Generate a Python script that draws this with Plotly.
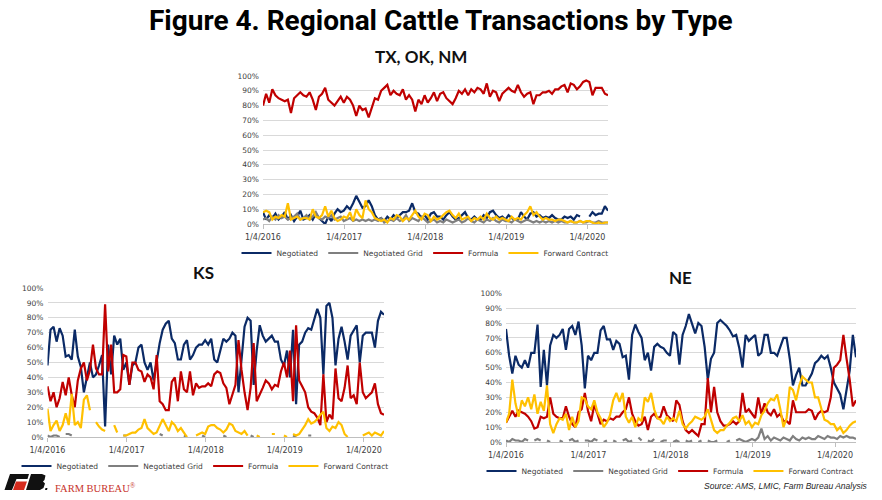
import pandas as pd
import plotly.graph_objects as go

W, H = 882, 500
START = "2016-01-04"
END = "2020-04-06"
STEP = "14D"

SERIES_NAMES = ["Negotiated", "Negotiated Grid", "Formula", "Forward Contract"]
SERIES_COLORS = ["#0B2A66", "#7F7F7F", "#C00000", "#FFC000"]
TICK_DATES = ["2016-01-04", "2017-01-04", "2018-01-04", "2019-01-04", "2020-01-04"]
TICK_TEXT = ["1/4/2016", "1/4/2017", "1/4/2018", "1/4/2019", "1/4/2020"]
N = None

# ---------------- TX, OK, NM (percent of transactions) ----------------
tx_negotiated = [
    8, 3, 6, 4, 7, 3, 5, 8, 3, 6,
    2, 5, 9, 3, 4, 6, 3, 7, 4, 2,
    0, 5, 2, 7, 10, 8, 9, 12, 10, 14,
    19, 15, 11, 12, 16, 12, 6, 3, 4, 2,
    5, 3, 6, 4, 6, 8, 8, 9, 14, 8,
    7, 4, 6, 3, 7, 8, 5,
    5, 3, 6, 8, 5, 3, 4, 6, 8, 4,
    3, 5, 3, 3, 6, 4, 8, 9, 6, 4,
    5, 3, 6, 4, 3, 3, 8, 5, 3, 7,
    8, 5, 6, 4, 5, 4, 6, 4, 3, 3,
    5, 4, 5, 3, 6, 5, N, N, 5, 8,
    6, 7, 7, 12, 9]
tx_grid = [
    3, 4, 2, 5, 3, 6, 4, 5, 3, 4,
    5, 7, 3, 4, 6, 3, 5, 8, 4, 3,
    5, 4, 6, 3, 4, 5, 2, 3, 4, 2,
    3, 2, 3, 2, 3, 2, 3, 2, 4, 1,
    2, 3, 2, 4, 2, 3, 6, 2, 4, 3,
    2, 5, 3, 1, 2, 3, 1,
    2, 1, 3, 2, 1, 2, 3, 1, 2, 4,
    2, 1, 3, 2, 1, 3, 2, 4, 2, 1,
    3, 2, 2, 1, 3, 2, 1, 2, 3, 2,
    1, 2, 1, 2, 1, 2, 1, 2, 1, 2,
    1, 1, 2, 1, 1, 2, 1, 1, 2, 1,
    1, 2, 1, 1, 1]
tx_formula = [
    80, 88, 82, 91, 87, 85, 84, 83, 84, 75,
    85, 87, 89, 87, 86, 89, 84, 77, 86, 88,
    92, 84, 82, 80, 83, 86, 82, 86, 84, 80,
    73, 80, 77, 78, 72, 78, 85, 84, 90, 92,
    94, 87, 90, 88, 87, 91, 84, 87, 84, 76,
    84, 81, 87, 82, 85, 89, 83,
    88, 89, 85, 83, 81, 85, 90, 88, 91, 87,
    91, 89, 92, 91, 88, 95, 86, 90, 89, 83,
    88, 90, 92, 90, 89, 94, 89, 86, 88, 89,
    81, 87, 87, 89, 89, 90, 88, 91, 91, 93,
    94, 89, 95, 94, 91, 93, 96, 97, 96, 87,
    92, 92, 92, 88, 87]
tx_forward = [
    8, 9, 8, 3, 5, 4, 6, 5, 14, 3,
    4, 5, 3, 4, 4, 3, 10, 5, 4, 6,
    12, 5, 9, 4, 2, 3, 5, 4, 8, 2,
    10, 6, 4, 16, 10, 8, 4, 3, 2, 3,
    1, 4, 3, 6, 5, 2, 4, 3, 6, 9,
    5, 3, 7, 6, 2, 5, 3,
    4, 6, 8, 9, 6, 4, 7, 3, 4, 5,
    2, 4, 3, 5, 3, 7, 4, 3, 5, 3,
    4, 3, 2, 5, 3, 4, 3, 6, 8, 12,
    6, 8, 5, 3, 4, 3, 3, 2, 3, 3,
    2, 1, 2, 1, 1, 2, 1, 2, 2, 1,
    0, 1, 0, 1, 1]

# ---------------- KS ----------------
ks_negotiated = [
    48, 72, 74, 64, 73, 68, 54, 55, 52, 72,
    54, 47, 30, 40, 50, 40, 42, 48, 55, 7,
    62, 42, 68, 62, 66, 45, 50, 35, 48, 50,
    60, 62, 50, 45, 50, 38, 52, 63, 72, 76,
    78, 66, 63, 52, 52, 62, 65, 52, 55, 60,
    62, 62, 65, 62, 66, 52,
    50, 58, 66, 64, 66, 70, 68, 30, 52, 74,
    80, 78, 35, 58, 75, 68, 64, 66, 68, 64,
    64, 52, 48, 58, 40, 72, 22, 62, 64, 70,
    73, 72, 80, 86, 80, 42, 88, 90, 80, 48,
    66, 74, 64, 52, 68, 72, 75, 50, 68, 70,
    70, 70, 60, 78, 84, 82]
ks_grid = [
    1, 0, 1, 1, 0, N, 2, 2, 1, N,
    N, N, N, N, N, N, N, N, N, N,
    N, N, N, N, N, 1, 1, N, N, N,
    N, N, N, N, N, N, N, 2, 1, N,
    N, N, N, N, N, 1, 0, N, N, N,
    N, 1, 0, N, N, N,
    N, N, 1, 0, N, N, N, N, N, N,
    N, 1, 0, N, N, N, N, N, N, N,
    N, N, N, N, N, 1, 0, N, N, N,
    1, 1, N, N, N, N, N, N, N, N,
    N, N, N, N, N, N, N, N, N, N,
    N, N, N, N, N, N]
ks_formula = [
    34, 24, 30, 20, 26, 37, 28, 40, 28, 20,
    38, 46, 50, 38, 45, 62, 46, 42, 42, 89,
    44, 62, 30, 30, 32, 55, 54, 35, 50, 50,
    45, 44, 37, 42, 40, 32, 55, 24, 22, 18,
    18, 37, 40, 24, 44, 32, 30, 44, 28, 36,
    33, 34, 34, 36, 34, 42,
    44, 43, 36, 33, 22, 29, 35, 65, 45, 30,
    18, 33, 63, 24, 28, 33, 38, 36, 32, 35,
    34, 44, 50, 40, 58, 24, 75, 38, 34, 30,
    20, 17, 16, 13, 8, 42, 10, 15, 12, 46,
    26, 24, 33, 48, 26, 28, 22, 50, 30, 26,
    28, 30, 36, 22, 16, 15]
ks_forward = [
    19, 4, 8, 11, 4, 8, 16, 8, 29, 8,
    10, 6, 25, 28, 18, N, 10, 7, 5, 4,
    N, N, 8, 3, N, 1, 1, 2, 3, 3,
    5, 6, 12, 6, 4, 2, 3, 8, 12, 8,
    4, 10, 8, 4, 6, 3, 0, N, N, 1,
    2, 3, 2, 7, 8, 8,
    6, 5, 3, 5, 9, 8, 4, 3, 2, 4,
    1, N, N, 1, 0, N, N, N, 2, 2,
    N, N, 1, 0, N, 2, 1, 2, 5, 8,
    12, 9, 10, 12, 15, 17, 6, 4, 7, 6,
    10, 8, 2, 0, N, N, N, N, 1, 2,
    3, 1, 3, 2, 1, 4]

# ---------------- NE ----------------
ne_negotiated = [
    76, 58, 46, 58, 52, 50, 55, 50, 60, 60,
    79, 37, 62, 38, 65, 72, 70, 72, 76, 62,
    76, 78, 72, 81, 65, 36, 58, 55, 60, 60,
    75, 78, 69, 69, 62, 68, 66, 57, 58, 42,
    72, 79, 74, 70, 55, 60, 48, 64, 66, 64,
    63, 60, 58, 74, 72, 52,
    72, 78, 86, 79, 73, 80, 78, 64, 42, 56,
    60, 80, 82, 80, 78, 75, 71, 72, 63, 50,
    72, 68, 70, 72, 58, 60, 72, 72, 60, 60,
    58, 64, 70, 70, 56, 38, 45, 50, 38, 38,
    42, 46, 53, 55, 58, 56, 58, 50, 40, 36,
    32, 22, 35, 48, 72, 57]
ne_grid = [
    1, 0, 2, 1, 1, 0, 2, 1, N, 1,
    2, 1, N, 1, 0, N, N, 1, 0, N,
    1, 2, 0, 1, N, 1, 1, 0, 2, 1,
    N, 0, 1, N, 1, 0, N, 1, 2, 0,
    1, N, 3, 1, N, 1, 0, 2, N, 0,
    1, 1, N, 0, 1, 0,
    N, 1, 0, 1, N, 0, 1, N, 1, 0,
    0, 1, N, N, 0, 1, N, 1, 2, 1,
    0, 1, 2, 1, 3, 9, 2, 4, 1, 3,
    2, 1, 3, 2, 1, 4, 2, 1, 3, 2,
    3, 2, 2, 4, 3, 2, 4, 3, 3, 2,
    4, 3, 4, 3, 3, 2]
ne_formula = [
    13, 17, 21, 17, 21, 20, 19, 17, 14, 9,
    10, 17, 16, 17, 30, 19, 17, 16, 16, 24,
    17, 12, 10, 20, 22, 33, 21, 14, 25, 19,
    12, 15, 14, 16, 15, 17, 17, 20, 22, 30,
    19, 14, 11, 12, 17, 8, 17, 19, 16, 17,
    24, 18, 16, 14, 28, 25,
    14, 8, 6, 8, 6, 4, 12, 12, 43, 20,
    37, 20, 14, 11, 11, 12, 14, 12, 14, 33,
    20, 22, 19, 16, 30, 19, 26, 20, 18, 22,
    17, 19, 14, 14, 12, 28, 20, 20, 20, 20,
    22, 21, 15, 19, 21, 20, 21, 30, 50, 52,
    55, 72, 56, 42, 24, 28]
ne_forward = [
    13, 19, 42, 26, 17, 28, 24, 30, 22, 32,
    19, 27, 21, 38, 12, 6, 12, 16, 15, 19,
    8, 17, 10, 14, 30, 29, 24, 22, 28, 20,
    16, 10, 13, 18, 28, 33, 27, 33, 17, 13,
    17, 10, 16, 14, 30, 27, 33, 22, 16, 15,
    12, 17, 14, 16, 14, 21,
    12, 9, 12, 14, 17, 16, 15, 17, 22, 15,
    8, 6, 8, 8, 11, 13, 16, 17, 14, 18,
    12, 14, 10, 13, 12, 18, 21, 26, 29, 28,
    32, 22, 10, 16, 37, 35, 28, 38, 44, 42,
    40, 40, 30, 30, 22, 15, 14, 12, 12, 8,
    10, 6, 8, 11, 13, 14]


def px(x):
    return x / W


def py(y):
    return 1 - y / H


PANELS = [
    dict(title="TX, OK, NM", series=[tx_negotiated, tx_grid, tx_formula, tx_forward],
         box=(263, 608, 76, 224), title_xy=(421, 57), legend="legend",
         legend_xy=(425, 253)),
    dict(title="KS", series=[ks_negotiated, ks_grid, ks_formula, ks_forward],
         box=(47.5, 384, 288, 437), title_xy=(203, 272), legend="legend2",
         legend_xy=(205, 466)),
    dict(title="NE", series=[ne_negotiated, ne_grid, ne_formula, ne_forward],
         box=(506, 856, 293.3, 442), title_xy=(680, 277), legend="legend3",
         legend_xy=(670, 471)),
]

fig = go.Figure()
TICK_FONT = dict(family="DejaVu Sans", size=7.5, color="#404040")
layout = dict(width=W, height=H, autosize=False,
              margin=dict(l=0, r=0, t=0, b=0, pad=0, autoexpand=False),
              paper_bgcolor="white", plot_bgcolor="white", showlegend=True,
              annotations=[], shapes=[])

for k, p in enumerate(PANELS):
    sfx = "" if k == 0 else str(k + 1)
    for name, color, vals in zip(SERIES_NAMES, SERIES_COLORS, p["series"]):
        fig.add_trace(go.Scatter(
            x=pd.date_range(START, periods=len(vals), freq=STEP), y=vals,
            mode="lines", name=name, line=dict(color=color, width=2.2),
            xaxis="x" + sfx, yaxis="y" + sfx, legend=p["legend"],
            connectgaps=False, hoverinfo="skip"))
    x0, x1, yt, yb = p["box"]
    layout["xaxis" + sfx] = dict(
        domain=[px(x0), px(x1)], anchor="y" + sfx, type="date",
        range=[START, END], tickvals=TICK_DATES, ticktext=TICK_TEXT,
        showgrid=False, showline=True, linecolor="#BFBFBF", linewidth=1,
        ticks="outside", ticklen=4, tickcolor="#BFBFBF", automargin=False,
        ticklabelstandoff=1,
        tickfont=dict(family="DejaVu Sans", size=8, color="#404040"),
        zeroline=False)
    layout["yaxis" + sfx] = dict(
        domain=[py(yb), py(yt)], anchor="x" + sfx, range=[0, 100],
        dtick=10, ticksuffix="%", showgrid=True, gridcolor="#D9D9D9",
        gridwidth=1, zeroline=False, showline=False, ticks="", automargin=False,
        ticklabelstandoff=3, tickfont=TICK_FONT)
    layout[p["legend"]] = dict(
        orientation="h", x=px(p["legend_xy"][0]), xanchor="center",
        y=py(p["legend_xy"][1]), yanchor="middle",
        font=dict(family="DejaVu Sans", size=7.5, color="#404040"),
        bgcolor="rgba(0,0,0,0)", itemwidth=30, traceorder="normal")
    layout["annotations"].append(dict(
        text="<b>%s</b>" % p["title"], x=px(p["title_xy"][0]), y=py(p["title_xy"][1]),
        xref="paper", yref="paper", showarrow=False, xanchor="center", yanchor="middle",
        font=dict(family="Lato", size=17, color="#111111")))

layout["annotations"] += [
    dict(text="<b>Figure 4. Regional Cattle Transactions by Type</b>",
         x=0.5, y=py(20), xref="paper", yref="paper", showarrow=False,
         xanchor="center", yanchor="middle",
         font=dict(family="Roboto", size=28, color="#000000")),
    dict(text="<i>Source: AMS, LMIC, Farm Bureau Analysis</i>",
         x=px(870), y=py(486), xref="paper", yref="paper", showarrow=False,
         xanchor="right", yanchor="middle",
         font=dict(family="Liberation Sans", size=8.5, color="#262626")),
    dict(text="FARM BUREAU<sup>®</sup>", x=px(53), y=py(487), xref="paper", yref="paper",
         showarrow=False, xanchor="left", yanchor="middle",
         font=dict(family="Liberation Serif", size=10.5, color="#C8332B")),
]


def path(points, close=True):
    s = "M " + " L ".join("%.5f,%.5f" % (px(x), py(y)) for x, y in points)
    return s + (" Z" if close else "")


logo_shapes = [
    (path([(10, 474), (29, 474), (27.5, 479), (16.5, 479), (12, 490), (4.5, 490)]), "#111111"),
    (path([(16, 481.5), (27, 481.5), (24, 490), (13, 490)]), "#D52B1E"),
    (path([(31, 474), (42, 474), (45.5, 475.5), (44.5, 480), (43, 481.5), (45, 483.5),
           (43.5, 488), (40, 490), (26, 490)]), "#111111"),
    (path([(45.5, 488), (47.5, 488), (47, 490), (45, 490)]), "#111111"),
]
for pth, col in logo_shapes:
    layout["shapes"].append(dict(type="path", path=pth, xref="paper", yref="paper",
                                 fillcolor=col, line=dict(width=0)))

fig.update_layout(**layout)
fig.write_html(
    "out.html",
    config={"staticPlot": True, "displayModeBar": False},
    post_script="document.body.style.margin='0';document.body.style.padding='0';"
                "document.body.style.overflow='hidden';")
